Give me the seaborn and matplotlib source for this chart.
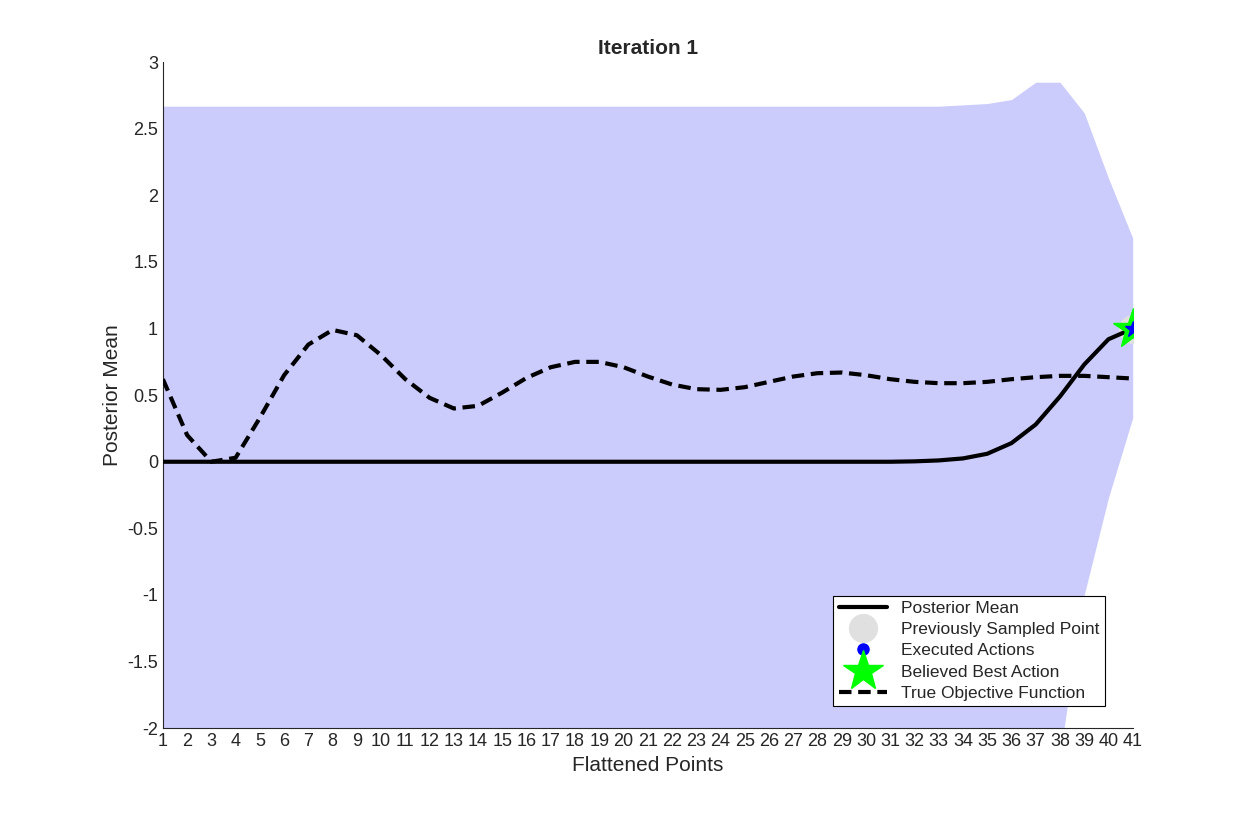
import numpy as np
import pandas as pd
import matplotlib
matplotlib.use("Agg")
import matplotlib.pyplot as plt
import seaborn as sns

# data
points = list(range(1, 42))
posterior_mean = [0.0]*31 + [0.003, 0.01, 0.025, 0.06, 0.14, 0.28, 0.49, 0.73, 0.92, 1.0]
upper = [2.67]*33 + [2.68, 2.69, 2.72, 2.85, 2.85, 2.62, 2.13, 1.68]
lower = [-2.7]*37 + [-2.2, -1.0, -0.27, 0.33]
true_obj = [0.62, 0.2, 0.0, 0.03, 0.33, 0.65, 0.88, 0.99, 0.95, 0.8,
            0.62, 0.48, 0.40, 0.42, 0.52, 0.63, 0.71, 0.75, 0.75, 0.71,
            0.64, 0.58, 0.545, 0.54, 0.56, 0.60, 0.64, 0.665, 0.67, 0.65,
            0.62, 0.60, 0.59, 0.59, 0.60, 0.62, 0.635, 0.645, 0.645, 0.635, 0.625]
best_x, best_y = 41, 1.0

df = pd.DataFrame({"x": points, "mean": posterior_mean, "true": true_obj})

sns.set_style("white")
plt.rcParams["font.family"] = ["Liberation Sans", "DejaVu Sans"]

fig = plt.figure(figsize=(12.53, 8.19), dpi=100)
ax = fig.add_axes([0.130, 0.111, 0.774, 0.813])

ax.fill_between(points, lower, upper, color="#ccccfc", linewidth=0, zorder=1)
sns.lineplot(data=df, x="x", y="mean", color="black", linewidth=3, ax=ax,
             label="Posterior Mean", zorder=3)
ax.plot(best_x, best_y, "o", color="#e0e0e0", markersize=20, zorder=2,
        label="Previously Sampled Point", linestyle="none")
ax.plot(best_x, best_y, "o", color="blue", markersize=8, zorder=4,
        label="Executed Actions", linestyle="none")
ax.plot(best_x, best_y, "*", color="#00ff00", markersize=30, zorder=5,
        label="Believed Best Action", linestyle="none")
ax.plot(best_x, best_y, "*", color="blue", markersize=12, zorder=6, linestyle="none")
sns.lineplot(data=df, x="x", y="true", color="black", linewidth=3, ax=ax,
             linestyle=(0, (3, 1.6)), label="True Objective Function", zorder=3)

ax.set_xlim(1, 41)
ax.set_ylim(-2, 3)
ax.set_xticks(points)
ax.set_yticks(np.arange(-2, 3.01, 0.5))
ax.set_yticklabels([f"{v:g}" for v in np.arange(-2, 3.01, 0.5)])
ax.tick_params(direction="in", length=6, labelsize=13, colors="#262626", width=1)
for s in ["top", "right"]:
    ax.spines[s].set_visible(False)
for s in ["left", "bottom"]:
    ax.spines[s].set_color("#262626")
ax.set_xlabel("Flattened Points", fontsize=15, color="#262626")
ax.set_ylabel("Posterior Mean", fontsize=15, color="#262626")
ax.set_title("Iteration 1", fontsize=15, fontweight="bold")

leg = ax.legend(loc="lower right", bbox_to_anchor=(0.98, 0.02), fontsize=12.5,
                frameon=True, fancybox=False, edgecolor="black", framealpha=1,
                handlelength=2.8, borderpad=0.3, labelspacing=0.35)
leg.get_frame().set_linewidth(0.8)

fig.savefig("out.png", dpi=100)
